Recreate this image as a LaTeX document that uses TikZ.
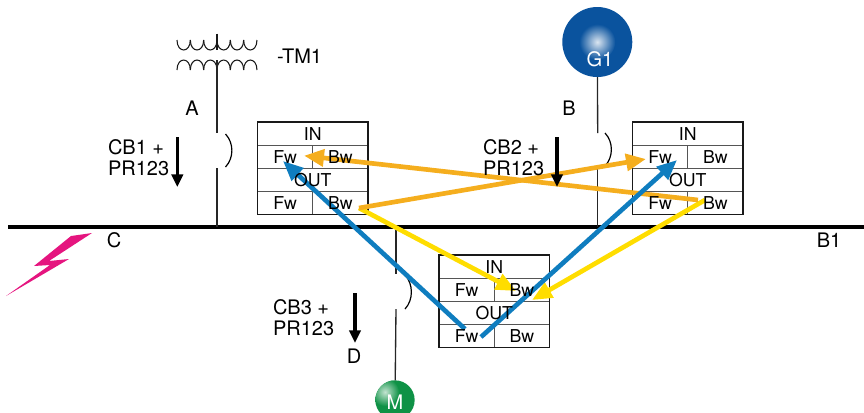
\documentclass[tikz,border=0pt]{standalone}
\usepackage{fontspec}
\setmainfont{TeX Gyre Heros}
\usetikzlibrary{arrows.meta,calc}
\definecolor{cOrange}{HTML}{F5AE1E}
\definecolor{cYellow}{HTML}{FFDD00}
\definecolor{cBlue}{HTML}{0F7DBF}
\definecolor{cGen}{HTML}{0A539E}
\definecolor{cMot}{HTML}{0F9246}
\definecolor{cBolt}{HTML}{E5157F}
\definecolor{cInner}{HTML}{555555}
\tikzset{
  x=0.75pt,y=-0.75pt,
  lbl/.style={font=\fontsize{15}{15.8}\selectfont,inner sep=0pt,outer sep=0pt,text=black},
  celltext/.style={font=\fontsize{13.3}{14}\selectfont,inner sep=0pt,text=black},
  cell/.style={draw=cInner,line width=0.75pt,inner sep=0pt,outer sep=0pt,minimum height=17.25pt},
  wide/.style={cell,minimum width=82.9pt},
  half/.style={cell,minimum width=41.45pt},
  tbox/.style={draw=black!90,line width=1pt,minimum width=82.9pt,minimum height=69.4pt,inner sep=0pt,outer sep=0pt},
  wire/.style={line width=1pt,draw=black!85},
  bus/.style={line width=2.3pt,draw=black},
  brk/.style={line width=0.9pt,draw=black},
  sense/.style={line width=2.6pt,draw=black,-{Triangle[length=9.5pt,width=8.5pt]}},
  flow/.style={line width=3.5pt,-{Triangle[length=15pt,width=12.5pt]}},
  coil/.style={line width=0.8pt,draw=black!90},
}
\newcommand{\cbtable}[3]{%
  \begin{scope}[shift={(#2,#3)}]
    \node[wide,draw=none] (#1in) at (55.25,12) {};
    \node[half] (#1fwi) at (27.6,35) {};
    \node[half] (#1bwi) at (82.9,35) {};
    \node[wide,draw=none] (#1out) at (55.25,58) {};
    \node[half] (#1fwo) at (27.6,81) {};
    \node[half] (#1bwo) at (82.9,81) {};
    \node[tbox] (#1box) at (55.25,46.25) {};
  \end{scope}}
\newcommand{\cbtext}[1]{%
  \node[celltext] (#1inL) at (#1in) {IN};
  \node[celltext] (#1fwiL) at (#1fwi) {Fw};
  \node[celltext] (#1bwiL) at (#1bwi) {Bw};
  \node[celltext] (#1outL) at (#1out) {OUT};
  \node[celltext] (#1fwoL) at (#1fwo) {Fw};
  \node[celltext] (#1bwoL) at (#1bwo) {Bw};}
\newcommand{\breaker}[3]{% x of arc, top y, bottom y
  \draw[brk] (#1,#2) .. controls (#1+8.5,#2+9) and (#1+8.5,#3-9) .. (#1,#3);}
\begin{document}
\begin{tikzpicture}
\useasboundingbox (0,0) rectangle (864,412);
% named points
\coordinate (busL) at (8,227);
\coordinate (busR) at (864,227);
\coordinate (busA) at (217,227);
\coordinate (busB) at (597.7,227);
\coordinate (busD) at (396,227);
\coordinate (stemTop) at (217,33.5);
\coordinate (stemBot) at (217,50);
\coordinate (tmOut) at (217,60);
\coordinate (aTop) at (217,133);
\coordinate (aBot) at (217,168);
\coordinate (bTop) at (597.7,133);
\coordinate (bBot) at (597.7,166);
\coordinate (dTop) at (396,274);
\coordinate (dBot) at (396,309);
% bus
\draw[bus] (busL) -- (busR);
% transformer
\foreach \i in {0,...,5}{
  \draw[coil] (177+13.33*\i,40) .. controls (177+13.33*\i,53.3) and (190.33+13.33*\i,53.3) .. (190.33+13.33*\i,40);
  \draw[coil] (177+13.33*\i,70) .. controls (177+13.33*\i,56.7) and (190.33+13.33*\i,56.7) .. (190.33+13.33*\i,70);
}
\draw[coil] (stemTop) -- (stemBot);
% machines
\node[circle,minimum size=52.5pt,inner sep=0pt,outer sep=0pt,fill=cGen] (g1) at (597.3,42) {};
\shade[inner color=white!85!cGen,outer color=cGen] (597.3,42) circle[radius=18];
\node[circle,minimum size=29.5pt,inner sep=0pt,outer sep=0pt,fill=cMot] (m) at (395,400) {};
\begin{scope}
  \clip (395,400) circle[radius=19.6];
  \shade[inner color=white!75!cMot,outer color=cMot] (385,392) circle[radius=14];
\end{scope}
% feeders
\draw[wire,line width=1.4pt] (tmOut) -- (aTop);
\draw[wire,line width=1.4pt] (aBot) -- (busA);
\draw[wire] (g1) -- (bTop);
\draw[wire] (bBot) -- (busB);
\draw[wire] (busD) -- (dTop);
\draw[wire] (dBot) -- (m);
\breaker{225.5}{134}{167}
\breaker{605}{133}{166}
\breaker{405}{275}{309}
% sense arrows
\coordinate (s1a) at (177.3,137); \coordinate (s1b) at (177.3,187);
\coordinate (s2a) at (557,137);   \coordinate (s2b) at (557,187);
\coordinate (s3a) at (355,293);   \coordinate (s3b) at (355,343);
\draw[sense] (s1a) -- (s1b);
\draw[sense] (s3a) -- (s3b);
% tables
\cbtable{ta}{257.5}{122}
\cbtable{tb}{632.5}{122}
\cbtable{tc}{439}{255}
% lightning
\fill[cBolt] (92,233) -- (71,236) -- (34,266) -- (50,265) -- (6,296) -- (69,259) -- (49,261) -- cycle;
% flow arrows
\coordinate (o1s) at (698,200); \coordinate (o1e) at (304,155.7);
\coordinate (o2s) at (359,208); \coordinate (o2e) at (646,159);
\coordinate (y1s) at (359,208); \coordinate (y1e) at (516,291);
\coordinate (y2s) at (705,200); \coordinate (y2e) at (532,300);
\coordinate (b1s) at (465,329); \coordinate (b1e) at (283,161);
\coordinate (b2s) at (481,337); \coordinate (b2e) at (677,160);
\draw[flow,draw=cYellow,fill=cYellow,cYellow] (y1s) -- (y1e);
\draw[flow,draw=cYellow,fill=cYellow,cYellow] (y2s) -- (y2e);
\draw[flow,draw=cOrange,fill=cOrange,cOrange] (o1s) -- (o1e);
\draw[flow,draw=cOrange,fill=cOrange,cOrange] (o2s) -- (o2e);
\draw[flow,draw=cBlue,fill=cBlue,cBlue] (b1s) -- (b1e);
\draw[flow,draw=cBlue,fill=cBlue,cBlue] (b2s) -- (b2e);
\draw[sense] (s2a) -- (s2b);
% table text
\cbtext{ta}
\cbtext{tb}
\cbtext{tc}
% labels
\node[lbl,anchor=base west] (ltm) at (277,63) {-TM1};
\node[lbl,anchor=base] (la) at (192,115) {A};
\node[lbl,anchor=base] (lb) at (569,115) {B};
\node[lbl,anchor=base] (lc) at (114,247) {C};
\node[lbl,anchor=base] (ld) at (354,363) {D};
\node[lbl,anchor=base] (lb1) at (829,247) {B1};
\node[lbl,anchor=west,align=left] (l1) at (108,157.5) {CB1 +\\PR123};
\node[lbl,anchor=west,align=left] (l2) at (483,157.5) {CB2 +\\PR123};
\node[lbl,anchor=west,align=left] (l3) at (273,318) {CB3 +\\PR123};
\node[lbl,anchor=base,text=white,font=\fontsize{15}{16}\selectfont] (lg) at (600,66) {G1};
\node[lbl,anchor=base,text=white,font=\fontsize{15}{16}\selectfont] (lm) at (395,409) {M};
\end{tikzpicture}
\end{document}
